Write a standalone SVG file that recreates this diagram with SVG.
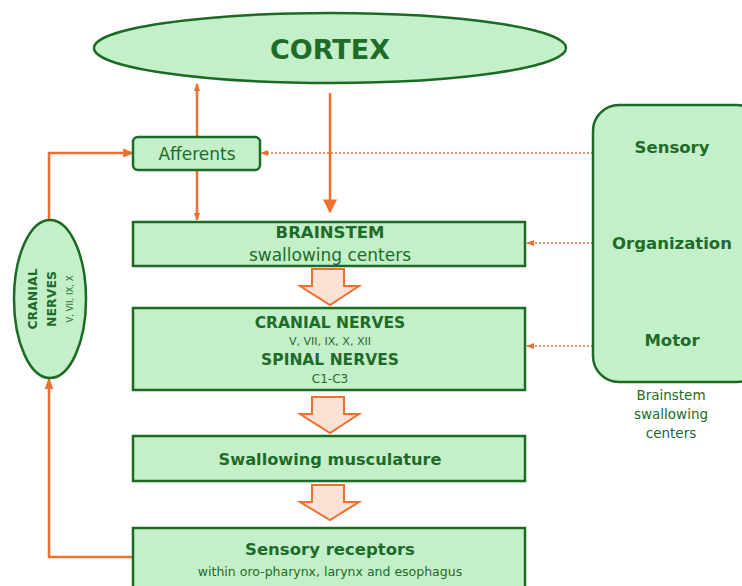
<svg xmlns="http://www.w3.org/2000/svg" width="742" height="586" viewBox="0 0 742 586">
<defs>
<style>
.box{fill:#c3f0c8;stroke:#1b6b25;stroke-width:2.5}
.t{font-family:"DejaVu Sans","Liberation Sans",sans-serif;fill:#1e6b2a;text-anchor:middle}
.b{font-weight:bold}
.ln{fill:none;stroke:#ec7030;stroke-width:2.5}
.dot{fill:none;stroke:#ec7030;stroke-width:1.5;stroke-dasharray:2 2}
.blk{fill:#fbe2d5;stroke:#ec7030;stroke-width:2}
</style>
<marker id="ahs" viewBox="0 0 10 10" refX="9" refY="5" markerWidth="8" markerHeight="8" orient="auto" markerUnits="userSpaceOnUse">
<path d="M0,1 L10,5 L0,9 z" fill="#ec7030"/>
</marker>
<marker id="ahb" viewBox="0 0 10 10" refX="9" refY="5" markerWidth="11" markerHeight="11" orient="auto" markerUnits="userSpaceOnUse">
<path d="M0,1 L10,5 L0,9 z" fill="#ec7030"/>
</marker>
<marker id="ahm" viewBox="0 0 10 10" refX="9" refY="5" markerWidth="14" markerHeight="14" orient="auto" markerUnits="userSpaceOnUse">
<path d="M0,0 L10,5 L0,10 z" fill="#ec7030"/>
</marker>
</defs>

<g id="connectors">
<line class="ln" x1="197" y1="137" x2="197" y2="84" stroke-width="1.8" marker-end="url(#ahs)"/>
<line class="ln" x1="197" y1="171" x2="197" y2="220" stroke-width="1.8" marker-end="url(#ahs)"/>
<line class="ln" x1="330" y1="93" x2="330" y2="212" stroke-width="4.5" marker-end="url(#ahm)"/>
<polyline class="ln" points="133,557 49,557 49,379" marker-end="url(#ahb)"/>
<polyline class="ln" points="49,220 49,153 133,153" marker-end="url(#ahb)"/>
<line class="dot" x1="593" y1="153" x2="261" y2="153" marker-end="url(#ahs)"/>
<line class="dot" x1="593" y1="243" x2="527" y2="243" marker-end="url(#ahs)"/>
<line class="dot" x1="593" y1="346" x2="527" y2="346" marker-end="url(#ahs)"/>
<path class="blk" d="M312,269 H344 V286 H359 L330,305 L300,286 H312 Z"/>
<path class="blk" d="M312,397 H344 V414 H359 L330,433 L300,414 H312 Z"/>
<path class="blk" d="M312,485 H344 V502 H359 L330,520 L300,502 H312 Z"/>
</g>

<g id="cortex">
<ellipse class="box" cx="330" cy="48" rx="236" ry="35"/>
<text class="t b" x="330" y="59" font-size="27">CORTEX</text>
</g>

<g id="afferents">
<rect class="box" x="133" y="137" width="127" height="33" rx="5"/>
<text class="t" x="197" y="160" font-size="17">Afferents</text>
</g>

<g id="brainstem">
<rect class="box" x="133" y="222" width="392" height="44"/>
<text class="t b" x="330" y="238" font-size="16.5">BRAINSTEM</text>
<text class="t" x="330" y="261" font-size="17">swallowing centers</text>
</g>

<g id="nerves">
<rect class="box" x="133" y="308" width="392" height="82"/>
<text class="t b" x="330" y="328" font-size="15.5">CRANIAL NERVES</text>
<text class="t" x="330" y="345" font-size="11">V, VII, IX, X, XII</text>
<text class="t b" x="330" y="365" font-size="15.5">SPINAL NERVES</text>
<text class="t" x="330" y="383" font-size="12">C1-C3</text>
</g>

<g id="musculature">
<rect class="box" x="133" y="436" width="392" height="45"/>
<text class="t b" x="330" y="465" font-size="16.2">Swallowing musculature</text>
</g>

<g id="receptors">
<rect class="box" x="133" y="528" width="392" height="70"/>
<text class="t b" x="330" y="555" font-size="16.5">Sensory receptors</text>
<text class="t" x="330" y="576" font-size="12.5">within oro-pharynx, larynx and esophagus</text>
</g>

<g id="cranial-ellipse">
<ellipse class="box" cx="50" cy="299" rx="36" ry="79"/>
<g transform="translate(50,299) rotate(-90)">
<text class="t b" x="0" y="-13" font-size="12.5">CRANIAL</text>
<text class="t b" x="0" y="6" font-size="12.5">NERVES</text>
<text class="t" x="0" y="23" font-size="8.5">V, VII, IX, X</text>
</g>
</g>

<g id="brainstem-centers">
<rect class="box" x="593" y="105" width="170" height="277" rx="26"/>
<text class="t b" x="672" y="153" font-size="16.5">Sensory</text>
<text class="t b" x="672" y="249" font-size="16.5">Organization</text>
<text class="t b" x="672" y="346" font-size="16.5">Motor</text>
<text class="t" x="671" y="400" font-size="13.5">Brainstem</text>
<text class="t" x="671" y="419" font-size="13.5">swallowing</text>
<text class="t" x="671" y="438" font-size="13.5">centers</text>
</g>
</svg>
